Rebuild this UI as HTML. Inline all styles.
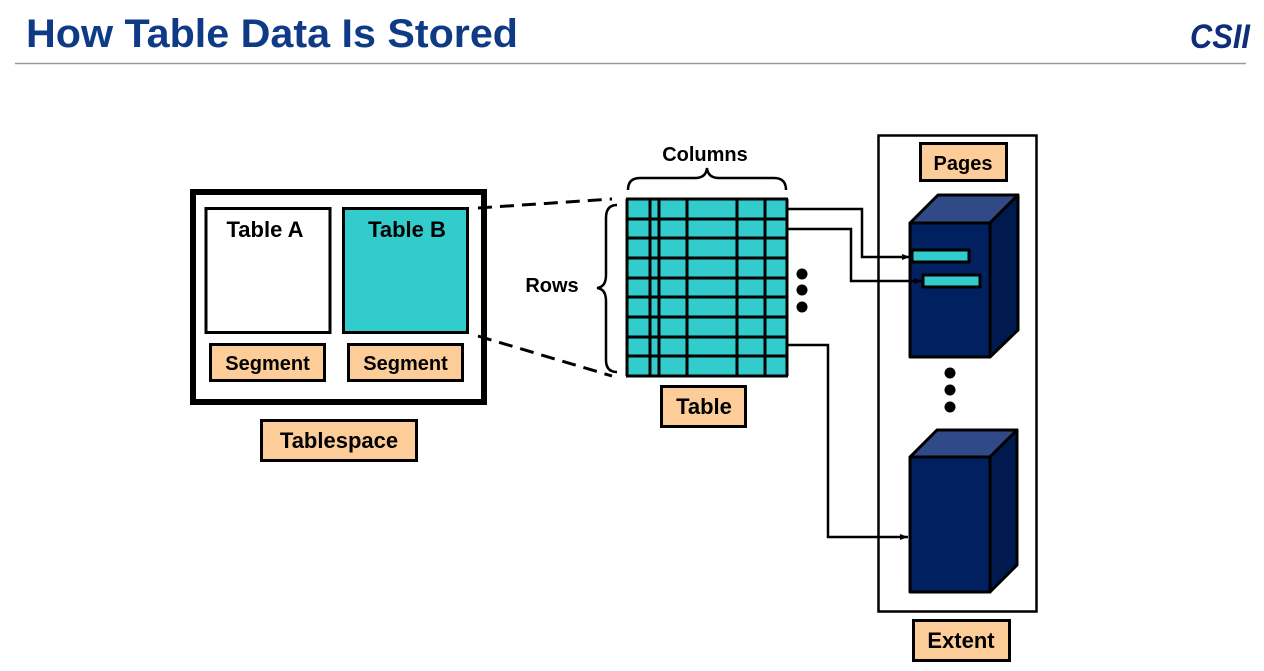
<!DOCTYPE html>
<html><head><style>
html,body{margin:0;padding:0;background:#fff;}
svg{display:block;font-family:"Liberation Sans",Arial,sans-serif;}
</style></head><body>
<svg width="1264" height="671" viewBox="0 0 1264 671" xmlns="http://www.w3.org/2000/svg">
<defs><marker id="ar" markerWidth="8" markerHeight="6" refX="8" refY="3" orient="auto" markerUnits="userSpaceOnUse"><path d="M0,0 L8,3 L0,6 z" fill="#000"/></marker></defs>
<text x="26" y="47" font-size="40" font-weight="bold" fill="#0f3a86" textLength="492" lengthAdjust="spacingAndGlyphs">How Table Data Is Stored</text>
<text x="1190" y="48" font-size="34" font-weight="bold" font-style="italic" fill="#0f2d78" textLength="60" lengthAdjust="spacingAndGlyphs">CSII</text>
<line x1="15" y1="63.5" x2="1246" y2="63.5" stroke="#999" stroke-width="1.5"/>
<rect x="193" y="192" width="291" height="210" fill="#fff" stroke="#000" stroke-width="6"/>
<rect x="206" y="208.5" width="124" height="124" fill="#fff" stroke="#000" stroke-width="3"/>
<rect x="343.5" y="208.5" width="124" height="124" fill="#33cccc" stroke="#000" stroke-width="3"/>
<text x="265" y="237" font-size="22" font-weight="bold" text-anchor="middle">Table A</text>
<text x="407" y="237" font-size="22" font-weight="bold" text-anchor="middle">Table B</text>
<rect x="210.5" y="344.5" width="114" height="36" fill="#fccc99" stroke="#000" stroke-width="3"/>
<rect x="348.5" y="344.5" width="114" height="36" fill="#fccc99" stroke="#000" stroke-width="3"/>
<text x="267.5" y="370" font-size="20" font-weight="bold" text-anchor="middle">Segment</text>
<text x="405.5" y="370" font-size="20" font-weight="bold" text-anchor="middle">Segment</text>
<rect x="261.5" y="420.5" width="155" height="40" fill="#fccc99" stroke="#000" stroke-width="3"/>
<text x="339" y="448" font-size="22" font-weight="bold" text-anchor="middle">Tablespace</text>
<line x1="478" y1="208" x2="612" y2="199" stroke="#000" stroke-width="3" stroke-dasharray="14,8"/>
<line x1="478" y1="336" x2="612" y2="376" stroke="#000" stroke-width="3" stroke-dasharray="14,8"/>
<path d="M628,190 Q628,178 640,178 L695,178 Q706,178 707,168 Q708,178 719,178 L774,178 Q786,178 786,190" fill="none" stroke="#000" stroke-width="2.5"/>
<text x="705" y="161" font-size="20" font-weight="bold" text-anchor="middle">Columns</text>
<path d="M617,205 Q606,205 606,218 L606,275 Q606,287 597,288 Q606,289 606,301 L606,360 Q606,372 617,372" fill="none" stroke="#000" stroke-width="2.5"/>
<text x="552" y="292" font-size="20" font-weight="bold" text-anchor="middle">Rows</text>
<rect x="627" y="199" width="160" height="177" fill="#33cccc"/>
<g stroke="#000" stroke-width="3">
<line x1="627" y1="199" x2="627" y2="376"/><line x1="650" y1="199" x2="650" y2="376"/><line x1="659" y1="199" x2="659" y2="376"/><line x1="687" y1="199" x2="687" y2="376"/><line x1="737" y1="199" x2="737" y2="376"/><line x1="765" y1="199" x2="765" y2="376"/><line x1="787" y1="199" x2="787" y2="376"/>
<line x1="626" y1="199" x2="788" y2="199"/><line x1="626" y1="219" x2="788" y2="219"/><line x1="626" y1="238" x2="788" y2="238"/><line x1="626" y1="258" x2="788" y2="258"/><line x1="626" y1="278" x2="788" y2="278"/><line x1="626" y1="297" x2="788" y2="297"/><line x1="626" y1="317" x2="788" y2="317"/><line x1="626" y1="337" x2="788" y2="337"/><line x1="626" y1="356" x2="788" y2="356"/><line x1="626" y1="376" x2="788" y2="376"/>
</g>
<circle cx="802" cy="274" r="5.5"/><circle cx="802" cy="290" r="5.5"/><circle cx="802" cy="307" r="5.5"/>
<rect x="661.5" y="386.5" width="84" height="40" fill="#fccc99" stroke="#000" stroke-width="3"/>
<text x="704" y="414" font-size="22" font-weight="bold" text-anchor="middle">Table</text>
<rect x="878.5" y="135.5" width="158" height="476" fill="none" stroke="#000" stroke-width="2.5"/>
<rect x="920.5" y="143.5" width="86" height="37" fill="#fccc99" stroke="#000" stroke-width="3"/>
<text x="963" y="170" font-size="20" font-weight="bold" text-anchor="middle">Pages</text>
<rect x="913.5" y="620.5" width="96" height="40" fill="#fccc99" stroke="#000" stroke-width="3"/>
<text x="961" y="648" font-size="22" font-weight="bold" text-anchor="middle">Extent</text>
<g stroke="#000" stroke-width="3" stroke-linejoin="round">
<polygon points="910,223 938,195 1018,195 990,223" fill="#2f4a86"/>
<polygon points="990,223 1018,195 1018,330 990,357" fill="#001a50"/>
<rect x="910" y="223" width="80" height="134" fill="#002060"/>
<rect x="912" y="250" width="57" height="12" fill="#33cccc"/>
<rect x="923" y="275" width="57" height="12" fill="#33cccc"/>
<polygon points="910,457 937,430 1017,430 990,457" fill="#2f4a86"/>
<polygon points="990,457 1017,430 1017,565 990,592" fill="#001a50"/>
<rect x="910" y="457" width="80" height="135" fill="#002060"/>
</g>
<circle cx="950" cy="373" r="5.5"/><circle cx="950" cy="390" r="5.5"/><circle cx="950" cy="407" r="5.5"/>
<g fill="none" stroke="#000" stroke-width="2.5">
<polyline points="788,209 862,209 862,257 910,257" marker-end="url(#ar)"/>
<polyline points="788,229 851,229 851,281 922,281" marker-end="url(#ar)"/>
<polyline points="788,345 828,345 828,537 908,537" marker-end="url(#ar)"/>
</g>
</svg>
</body></html>
